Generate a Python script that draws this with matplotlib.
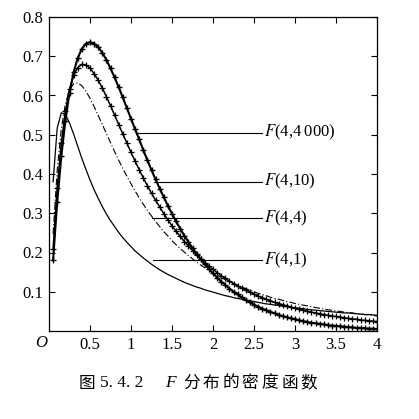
import numpy as np
import matplotlib
matplotlib.use("Agg")
import matplotlib.pyplot as plt

# sample points along x (0.05 .. 4.00)
x_vals = np.round(np.arange(1, 81) * 0.05, 2)

# F(4,1) density
f_4_1 = [0.380, 0.517, 0.556, 0.552, 0.530, 0.502, 0.471, 0.440, 0.412, 0.385,
         0.360, 0.338, 0.317, 0.298, 0.281, 0.266, 0.251, 0.238, 0.226, 0.215,
         0.204, 0.195, 0.186, 0.178, 0.170, 0.163, 0.156, 0.150, 0.144, 0.139,
         0.134, 0.129, 0.124, 0.120, 0.116, 0.112, 0.109, 0.105, 0.102, 0.099,
         0.096, 0.093, 0.090, 0.088, 0.085, 0.083, 0.081, 0.079, 0.077, 0.075,
         0.073, 0.071, 0.069, 0.068, 0.066, 0.065, 0.063, 0.062, 0.060, 0.059,
         0.058, 0.057, 0.055, 0.054, 0.053, 0.052, 0.051, 0.050, 0.049, 0.048,
         0.047, 0.046, 0.046, 0.045, 0.044, 0.043, 0.042, 0.042, 0.041, 0.040]

# F(4,4) density, dash-dot curve
f_4_4 = [0.247, 0.410, 0.515, 0.579, 0.614, 0.630, 0.632, 0.625, 0.611, 0.593,
         0.572, 0.549, 0.526, 0.503, 0.480, 0.457, 0.435, 0.414, 0.394, 0.375,
         0.357, 0.339, 0.323, 0.307, 0.293, 0.279, 0.266, 0.253, 0.242, 0.230,
         0.220, 0.210, 0.201, 0.192, 0.184, 0.176, 0.168, 0.161, 0.155, 0.148,
         0.142, 0.136, 0.131, 0.126, 0.121, 0.116, 0.112, 0.108, 0.104, 0.100,
         0.096, 0.093, 0.090, 0.086, 0.083, 0.081, 0.078, 0.075, 0.073, 0.070,
         0.068, 0.066, 0.064, 0.062, 0.060, 0.058, 0.056, 0.054, 0.053, 0.051,
         0.050, 0.048, 0.047, 0.046, 0.044, 0.043, 0.042, 0.041, 0.040, 0.038]

# F(4,10) density, line with markers
f_4_10 = [0.209, 0.365, 0.479, 0.560, 0.616, 0.651, 0.671, 0.679, 0.678, 0.670,
          0.656, 0.639, 0.619, 0.597, 0.574, 0.550, 0.526, 0.502, 0.479, 0.455,
          0.433, 0.411, 0.390, 0.370, 0.351, 0.333, 0.316, 0.299, 0.283, 0.268,
          0.254, 0.241, 0.228, 0.216, 0.205, 0.194, 0.184, 0.174, 0.165, 0.157,
          0.149, 0.141, 0.134, 0.127, 0.121, 0.115, 0.109, 0.104, 0.099, 0.094,
          0.089, 0.085, 0.081, 0.077, 0.073, 0.070, 0.067, 0.064, 0.061, 0.058,
          0.055, 0.053, 0.050, 0.048, 0.046, 0.044, 0.042, 0.040, 0.038, 0.037,
          0.035, 0.034, 0.032, 0.031, 0.030, 0.028, 0.027, 0.026, 0.025, 0.024]

# F(4,4000) density, heavy line with markers
f_4_4000 = [0.181, 0.328, 0.445, 0.536, 0.607, 0.659, 0.695, 0.719, 0.732, 0.736,
            0.732, 0.723, 0.709, 0.691, 0.669, 0.646, 0.621, 0.595, 0.568, 0.541,
            0.514, 0.488, 0.461, 0.435, 0.410, 0.386, 0.363, 0.341, 0.319, 0.299,
            0.279, 0.261, 0.243, 0.227, 0.211, 0.197, 0.183, 0.170, 0.158, 0.147,
            0.136, 0.126, 0.117, 0.108, 0.100, 0.093, 0.086, 0.079, 0.073, 0.067,
            0.062, 0.057, 0.053, 0.049, 0.045, 0.041, 0.038, 0.035, 0.032, 0.030,
            0.027, 0.025, 0.023, 0.021, 0.020, 0.018, 0.017, 0.015, 0.014, 0.013,
            0.012, 0.011, 0.010, 0.009, 0.008, 0.008, 0.007, 0.006, 0.006, 0.005]

# labels: (text, y of leader line, x where leader starts)
labels = ["$F$(4,4\u2009000)", "$F$(4,10)", "$F$(4,4)", "$F$(4,1)"]
label_y = [0.505, 0.380, 0.287, 0.180]
label_x0 = [1.07, 1.28, 1.26, 1.27]

x_ticks = [0.5, 1, 1.5, 2, 2.5, 3, 3.5, 4]
x_ticklabels = ["0.5", "1", "1.5", "2", "2.5", "3", "3.5", "4"]
y_ticks = [0.1, 0.2, 0.3, 0.4, 0.5, 0.6, 0.7, 0.8]
y_ticklabels = ["0.1", "0.2", "0.3", "0.4", "0.5", "0.6", "0.7", "0.8"]

caption_chars = ["分", "布", "的", "密", "度", "函", "数"]

plt.rcParams['font.family'] = ['Liberation Serif', 'DejaVu Sans']
plt.rcParams['mathtext.fontset'] = 'stix'

fig = plt.figure(figsize=(4.19, 4.19), dpi=100)
ax = fig.add_axes([49/419, 88/419, 328/419, 314/419])

ax.plot(x_vals, f_4_1, color='k', lw=0.9)
ax.plot(x_vals, f_4_4, color='k', lw=0.8, linestyle=(0, (6, 2, 1, 2)))
ax.plot(x_vals, f_4_10, color='k', lw=1.1, marker='+', ms=4.5, mew=0.9)
ax.plot(x_vals, f_4_4000, color='k', lw=1.5, marker='+', ms=4.5, mew=1.0)

for txt, yy, x0 in zip(labels, label_y, label_x0):
  ax.plot([x0, 2.6], [yy, yy], color='k', lw=0.8)
  ax.text(2.62, yy, txt, fontsize=12, va='center', ha='left')

ax.set_xlim(0, 4)
ax.set_ylim(0, 0.8)
ax.set_xticks(x_ticks)
ax.set_xticklabels(x_ticklabels)
ax.set_yticks(y_ticks)
ax.set_yticklabels(y_ticklabels)
ax.tick_params(direction='in', top=True, right=True, length=4, width=0.8,
               labelsize=12, pad=4)
for sp in ax.spines.values():
  sp.set_linewidth(0.9)

fig.text(41/419, 1 - 343/419, "O", fontsize=12, fontstyle='italic',
         ha='center', va='center')

# caption
cap_y = 1 - 383/419
cjk = ['Noto Sans CJK SC']
fig.text(79/419, cap_y, "图", fontsize=12, family=cjk, va='center')
fig.text(100/419, cap_y, "5. 4. 2", fontsize=12.5, va='center')
fig.text(165/419, cap_y, "F", fontsize=12.5, fontstyle='italic', va='center')
for i, ch in enumerate(caption_chars):
  fig.text((183 + i*19.6)/419, cap_y, ch, fontsize=12, family=cjk, va='center')

fig.savefig("out.png", dpi=100)
